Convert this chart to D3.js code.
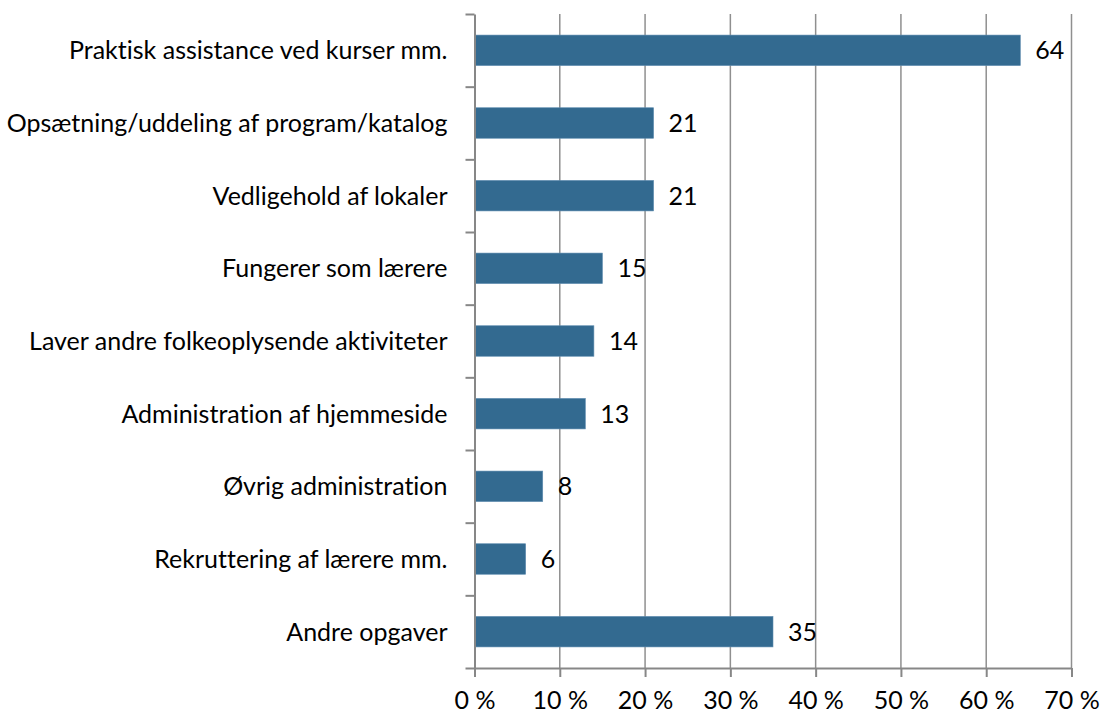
<!DOCTYPE html>
<html>
<head>
<meta charset="utf-8">
<script src="https://cdn.jsdelivr.net/npm/d3@7"></script>
<style>
  html, body { margin: 0; padding: 0; background: #fff; }
  svg { display: block; }
  text { font-family: "Lato", "Open Sans", sans-serif; fill: #000; font-variant-ligatures: none; font-feature-settings: "liga" 0; }
</style>
</head>
<body>
<svg id="chart" width="1100" height="713"></svg>
<script>
// Opgaver udført af frivillige (andel i procent)
const categories = [
  "Praktisk assistance ved kurser mm.",
  "Opsætning/uddeling af program/katalog",
  "Vedligehold af lokaler",
  "Fungerer som lærere",
  "Laver andre folkeoplysende aktiviteter",
  "Administration af hjemmeside",
  "Øvrig administration",
  "Rekruttering af lærere mm.",
  "Andre opgaver"
];
const values = [64, 21, 21, 15, 14, 13, 8, 6, 35];
const tickValues = [0, 10, 20, 30, 40, 50, 60, 70];
const tickLabels = ["0 %", "10 %", "20 %", "30 %", "40 %", "50 %", "60 %", "70 %"];

const svg = d3.select("#chart");
const plot = { left: 474.5, right: 1071.5, top: 14, bottom: 668 };

const x = d3.scaleLinear().domain([0, 70]).range([plot.left, plot.right]);
const y = d3.scaleBand().domain(categories)
  .range([plot.top, plot.bottom])
  .paddingInner(0.58).paddingOuter(0.29);

const axisColor = "#878787";
const gridColor = "#8f8f8f";
const barColor = "#336a90";
const fontSize = 25;

// vertical gridlines
svg.append("g")
  .selectAll("line")
  .data(tickValues.filter(d => d > 0))
  .join("line")
  .attr("x1", d => x(d)).attr("x2", d => x(d))
  .attr("y1", plot.top).attr("y2", plot.bottom)
  .attr("stroke", gridColor).attr("stroke-width", 1.5);

// bars
svg.append("g")
  .selectAll("rect")
  .data(values)
  .join("rect")
  .attr("x", x(0))
  .attr("y", (d, i) => y(categories[i]))
  .attr("width", d => x(d) - x(0))
  .attr("height", y.bandwidth())
  .attr("fill", barColor)
  .attr("stroke", "#5f8db0").attr("stroke-width", 0.6);

// value labels
svg.append("g")
  .selectAll("text")
  .data(values)
  .join("text")
  .attr("x", d => x(d) + 15)
  .attr("y", (d, i) => y(categories[i]) + y.bandwidth() / 2)
  .attr("dy", "0.36em")
  .attr("font-size", fontSize)
  .text(d => d);

// category axis: ticks at band boundaries
const boundary = d3.scaleLinear().domain([0, categories.length]).range([plot.top, plot.bottom]);
const yAxis = svg.append("g")
  .attr("transform", `translate(${plot.left},0)`)
  .call(d3.axisLeft(boundary).tickValues(d3.range(categories.length + 1))
    .tickSize(9).tickSizeOuter(0).tickFormat(""));
yAxis.selectAll("line, path").attr("stroke", axisColor).attr("stroke-width", 2);

// category labels
svg.append("g")
  .selectAll("text")
  .data(categories)
  .join("text")
  .attr("x", plot.left - 27)
  .attr("y", d => y(d) + y.bandwidth() / 2)
  .attr("dy", "0.36em")
  .attr("text-anchor", "end")
  .attr("font-size", fontSize)
  .text(d => d);

// value axis
const xAxis = svg.append("g")
  .attr("transform", `translate(0,${plot.bottom})`)
  .call(d3.axisBottom(x).tickValues(tickValues)
    .tickFormat((d, i) => tickLabels[i])
    .tickSize(9).tickSizeOuter(0).tickPadding(14));
xAxis.selectAll("line, path").attr("stroke", axisColor).attr("stroke-width", 2);
xAxis.selectAll("text")
  .attr("font-size", fontSize)
  .attr("font-family", "Lato, 'Open Sans', sans-serif")
  .attr("fill", "#000");
</script>
</body>
</html>
